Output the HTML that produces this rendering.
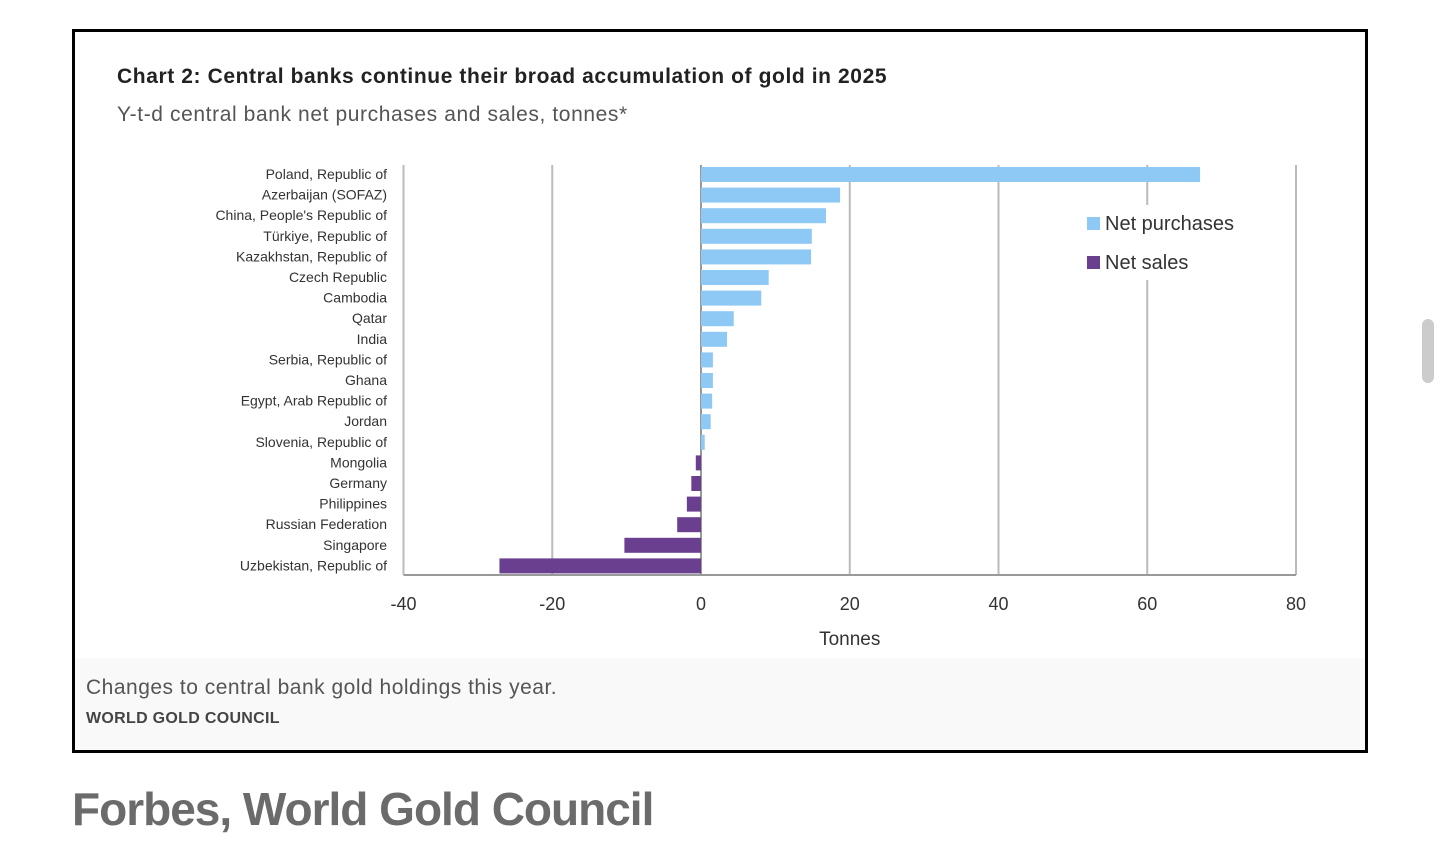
<!DOCTYPE html>
<html><head><meta charset="utf-8"><style>
body{margin:0;width:1440px;height:864px;background:#fff;position:relative;font-family:"Liberation Sans",sans-serif;overflow:hidden}
#frame{position:absolute;left:72px;top:29px;width:1290px;height:718px;border:3px solid #000;background:#fff}
#footer{position:absolute;left:0;top:626px;width:1290px;height:92px;background:#f9f9f9}
.t{position:absolute;white-space:nowrap}
#scroll{position:absolute;left:1422px;top:319px;width:12px;height:64px;border-radius:6px;background:#ccc}
</style></head><body>
<div id="frame">
  <div class="t" style="left:42px;top:33px;font-size:21px;font-weight:bold;color:#222;letter-spacing:0.6px">Chart 2: Central banks continue their broad accumulation of gold in 2025</div>
  <div class="t" style="left:42px;top:71px;font-size:21px;color:#555;letter-spacing:0.6px">Y-t-d central bank net purchases and sales, tonnes*</div>
  <div id="footer">
    <div class="t" style="left:11px;top:18px;font-size:21px;color:#555;letter-spacing:0.5px">Changes to central bank gold holdings this year.</div>
    <div class="t" style="left:11px;top:52px;font-size:16px;font-weight:bold;color:#444;letter-spacing:0.3px">WORLD GOLD COUNCIL</div>
  </div>
</div>
<svg id="chart" width="1440" height="864" style="position:absolute;left:0;top:0"></svg>
<div class="t" style="left:72px;top:782px;font-size:46px;font-weight:bold;color:#6b6b6b;letter-spacing:-1px">Forbes, World Gold Council</div>
<div id="scroll"></div>
<script>
const categories=["Poland, Republic of","Azerbaijan (SOFAZ)","China, People's Republic of","Türkiye, Republic of","Kazakhstan, Republic of","Czech Republic","Cambodia","Qatar","India","Serbia, Republic of","Ghana","Egypt, Arab Republic of","Jordan","Slovenia, Republic of","Mongolia","Germany","Philippines","Russian Federation","Singapore","Uzbekistan, Republic of"];
const values=[67.1,18.7,16.8,14.9,14.8,9.1,8.1,4.4,3.5,1.6,1.6,1.5,1.3,0.5,-0.7,-1.3,-1.9,-3.2,-10.3,-27.1];
const ticks=[-40,-20,0,20,40,60,80];
const NS="http://www.w3.org/2000/svg";
const svg=document.getElementById('chart');
const x=v=>701+(v)*(1296-701)/80;
const y0=165,rowH=20.6;
const y=i=>y0+i*rowH;
function mk(t,a){const e=document.createElementNS(NS,t);for(const k in a)e.setAttribute(k,a[k]);svg.appendChild(e);return e;}
ticks.forEach(t=>{
  const l=mk('line',{x1:x(t),x2:x(t),y1:165,y2:575,stroke:t==0?'#999':'#bbb','stroke-width':2});
  
  
  const tx=mk('text',{x:x(t),y:610,'text-anchor':'middle','font-size':18,fill:'#333','font-family':'Liberation Sans'});
  tx.textContent=t;
  
  
});
const ax=mk('line',{x1:x(-40),x2:x(80),y1:575,y2:575,stroke:'#999','stroke-width':2});


const xt=mk('text',{x:x(20),y:645,'text-anchor':'middle','font-size':19,fill:'#333','font-family':'Liberation Sans'});
xt.textContent='Tonnes';


const lb=mk('rect',{x:1080,y:205,width:180,height:75,fill:'#fff'});


categories.forEach((c,i)=>{
  const v=values[i];
  const r=mk('rect',{x:Math.min(x(0),x(v)),y:y(i)+2,width:Math.abs(x(v)-x(0)),height:15,fill:v>=0?'#8ec8f5':'#6b3f8f'});
  
  
  const t=mk('text',{x:387,y:y(i)+14,'text-anchor':'end','font-size':14,fill:'#333','font-family':'Liberation Sans'});
  t.textContent=c;
  
  
});
const legend=[["Net purchases","#8ec8f5",223],["Net sales","#6b3f8f",262]];
legend.forEach(([n,c,yy])=>{
  const s=mk('rect',{x:1087,y:yy-6,width:13,height:13,fill:c});
  
  
  const t=mk('text',{x:1105,y:yy+7,'font-size':20,fill:'#333','font-family':'Liberation Sans'});
  t.textContent=n;
  
  
});
</script>
</body></html>
